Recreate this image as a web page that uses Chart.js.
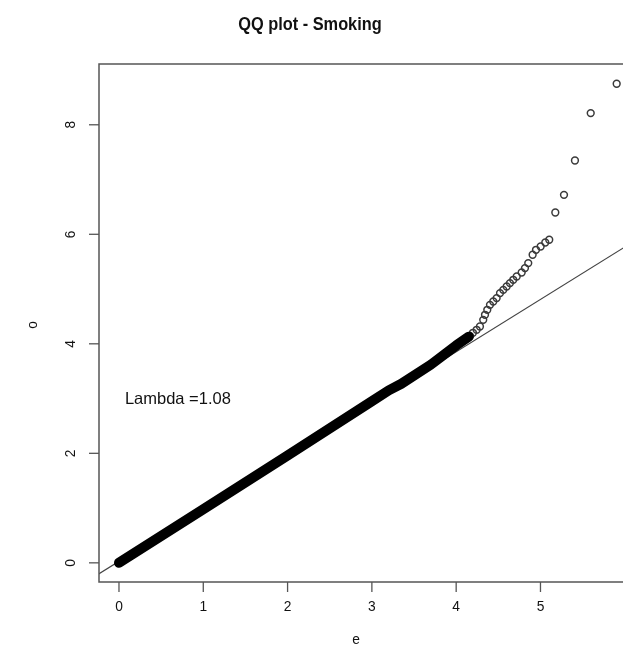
<!DOCTYPE html>
<html>
<head>
<meta charset="utf-8">
<script src="https://cdn.jsdelivr.net/npm/chart.js@4.4.1/dist/chart.umd.min.js"></script>
<style>
  html, body { margin: 0; padding: 0; background: #fff; }
  #wrap { width: 623px; height: 647px; }
</style>
</head>
<body>
<div id="wrap"><canvas id="qq" width="623" height="647"></canvas></div>
<script>
// Axis ticks
const xTicks = [0, 1, 2, 3, 4, 5];
const yTicks = [0, 2, 4, 6, 8];

// Dense body of the QQ points (expected vs observed -log10 p)
const bodyExpected = [0.00, 1.00, 2.00, 3.00, 3.20, 3.35, 3.70, 4.00, 4.15];
const bodyObserved = [0.00, 0.98, 1.96, 2.95, 3.15, 3.27, 3.62, 3.97, 4.13];

// Sparse upper tail, one point per SNP
const tailExpected = [4.164, 4.199, 4.243, 4.282, 4.321, 4.342, 4.369, 4.401, 4.440, 4.480,
                      4.520, 4.559, 4.599, 4.638, 4.677, 4.718, 4.777, 4.816, 4.855, 4.907,
                      4.947, 5.002, 5.057, 5.104, 5.176, 5.279, 5.409, 5.596, 5.904];
const tailObserved = [4.146, 4.201, 4.256, 4.316, 4.438, 4.530, 4.621, 4.712, 4.773, 4.835,
                      4.926, 4.986, 5.047, 5.109, 5.169, 5.229, 5.302, 5.383, 5.474, 5.626,
                      5.717, 5.777, 5.850, 5.900, 6.398, 6.721, 7.348, 8.214, 8.749];

// Reference line end points
const refX = [-0.30, 6.20];
const refY = [-0.26, 5.96];

const lambdaText = 'Lambda =1.08';
const lambdaPos = [0.07, 2.98];

const toXY = (xs, ys) => xs.map((x, i) => ({ x: x, y: ys[i] }));

const FONT = '"Liberation Sans", Arial, Helvetica, sans-serif';

// Draw text squeezed horizontally, like the original device output
function squeezedText(ctx, text, x, y, font, sx, align, rot) {
  ctx.save();
  ctx.translate(x, y);
  if (rot) ctx.rotate(rot);
  ctx.scale(sx, 1);
  ctx.font = font;
  ctx.textAlign = align || 'center';
  ctx.textBaseline = 'middle';
  ctx.fillStyle = '#111';
  ctx.fillText(text, 0, 0);
  ctx.restore();
}

const framePlugin = {
  id: 'frame',
  afterDraw(chart) {
    const ctx = chart.ctx;
    const a = chart.chartArea;
    const xs = chart.scales.x, ys = chart.scales.y;
    ctx.save();
    ctx.strokeStyle = '#555';
    ctx.lineWidth = 1.5;
    // plot box
    ctx.beginPath();
    ctx.moveTo(a.right + 2, a.top);
    ctx.lineTo(a.left, a.top);
    ctx.lineTo(a.left, a.bottom);
    ctx.lineTo(a.right + 2, a.bottom);
    ctx.stroke();
    // x ticks
    ctx.lineWidth = 1.3;
    xTicks.forEach(v => {
      const px = xs.getPixelForValue(v);
      ctx.beginPath();
      ctx.moveTo(px, a.bottom);
      ctx.lineTo(px, a.bottom + 10);
      ctx.stroke();
      squeezedText(ctx, String(v), px, a.bottom + 25, '15px ' + FONT, 0.92);
    });
    // y ticks
    yTicks.forEach(v => {
      const py = ys.getPixelForValue(v);
      ctx.beginPath();
      ctx.moveTo(a.left, py);
      ctx.lineTo(a.left - 10, py);
      ctx.stroke();
      squeezedText(ctx, String(v), a.left - 28, py, '15px ' + FONT, 0.92, 'center', -Math.PI / 2);
    });
    ctx.restore();
    // titles
    squeezedText(ctx, 'QQ plot - Smoking', 310, 25, 'bold 19px ' + FONT, 0.86);
    squeezedText(ctx, 'e', 356, 640, '15px ' + FONT, 0.92);
    squeezedText(ctx, 'o', 33, 325, '15px ' + FONT, 0.92, 'center', -Math.PI / 2);
    // lambda annotation
    squeezedText(ctx, lambdaText, xs.getPixelForValue(lambdaPos[0]),
                 ys.getPixelForValue(lambdaPos[1]), '16.5px ' + FONT, 1, 'left');
  }
};

new Chart(document.getElementById('qq'), {
  type: 'scatter',
  data: {
    datasets: [
      {
        label: 'body',
        type: 'line',
        data: toXY(bodyExpected, bodyObserved),
        borderColor: '#000',
        borderWidth: 10,
        borderCapStyle: 'round',
        borderJoinStyle: 'round',
        pointRadius: 0,
        tension: 0,
        fill: false
      },
      {
        label: 'tail',
        data: toXY(tailExpected, tailObserved),
        pointStyle: 'circle',
        pointRadius: 3.4,
        pointBorderWidth: 1.5,
        pointBorderColor: '#3a3a3a',
        pointBackgroundColor: 'rgba(0,0,0,0)',
        clip: { left: 0, top: 0, right: 10, bottom: 0 }
      },
      {
        label: 'reference',
        type: 'line',
        data: toXY(refX, refY),
        borderColor: '#444',
        borderWidth: 1.1,
        pointRadius: 0,
        fill: false
      }
    ]
  },
  options: {
    responsive: false,
    animation: false,
    events: [],
    layout: { autoPadding: false, padding: { left: 99, top: 64, right: 0, bottom: 65 } },
    plugins: { legend: { display: false }, tooltip: { enabled: false } },
    scales: {
      x: { type: 'linear', display: false, min: -0.237, max: 5.979 },
      y: { type: 'linear', display: false, min: -0.35, max: 9.11 }
    }
  },
  plugins: [framePlugin]
});
</script>
</body>
</html>
